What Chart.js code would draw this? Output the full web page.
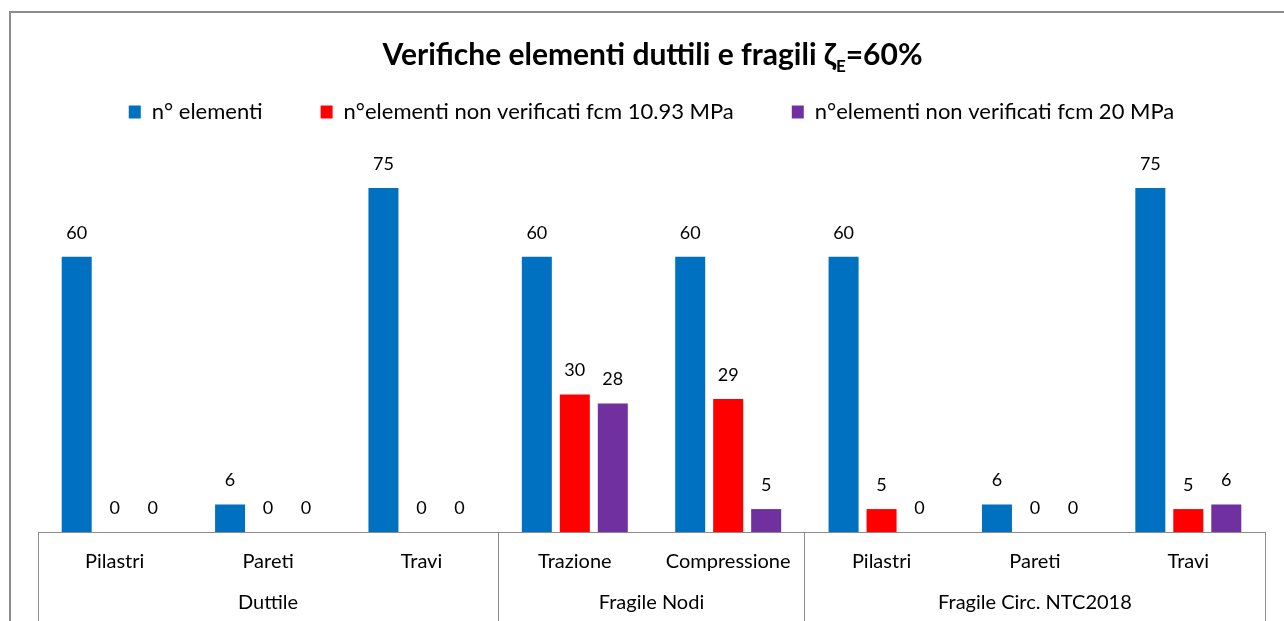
<!DOCTYPE html>
<html>
<head>
<meta charset="utf-8">
<script src="https://cdn.jsdelivr.net/npm/chart.js@4/dist/chart.umd.min.js"></script>
<style>
  html, body { margin: 0; padding: 0; background: #fff; overflow: hidden; }
  #wrap { position: relative; width: 1284px; height: 621px; overflow: hidden; }
  #chart { position: absolute; left: 0; top: 0; }
  #title { position: absolute; left: 0; top: 35px; width: 1305px; text-align: center;
           font: bold 30px Lato, sans-serif; color: #000; }
  #title sub { font-size: 17px; }
</style>
</head>
<body>
<div id="wrap">
  <canvas id="chart" width="1305" height="640"></canvas>
  <div id="title">Verifiche elementi duttili e fragili ζ<sub>E</sub>=60%</div>
</div>
<script>
// data
const categories = ['Pilastri', 'Pareti', 'Travi', 'Trazione', 'Compressione', 'Pilastri', 'Pareti', 'Travi'];
const groups = ['Duttile', 'Fragile Nodi', 'Fragile Circ. NTC2018'];
const groupSizes = [3, 2, 3];
const seriesNames = ['n° elementi', 'n°elementi non verificati fcm 10.93 MPa', 'n°elementi non verificati fcm 20 MPa'];
const nElementi = [60, 6, 75, 60, 60, 60, 6, 75];
const nonVerif1093 = [0, 0, 0, 30, 29, 5, 0, 5];
const nonVerif20 = [0, 0, 0, 28, 5, 0, 0, 6];
const colors = ['#0070C0', '#FF0000', '#7030A0'];

// group boundaries and centres on the category index scale
const bounds = [0];
groupSizes.forEach(n => bounds.push(bounds[bounds.length - 1] + n));
const groupCenters = groups.map((g, i) => (bounds[i] + bounds[i + 1]) / 2);

const axisGray = '#8c8c8c';
const font = 'Lato, sans-serif';

// value labels above bars
const valueLabels = {
  id: 'valueLabels',
  afterDatasetsDraw(chart) {
    const ctx = chart.ctx;
    ctx.save();
    ctx.font = '18px ' + font;
    ctx.fillStyle = '#000';
    ctx.textAlign = 'center';
    ctx.textBaseline = 'middle';
    chart.data.datasets.forEach((ds, i) => {
      chart.getDatasetMeta(i).data.forEach((bar, j) => {
        ctx.fillText(ds.data[j], bar.x, bar.y - 24);
      });
    });
    ctx.restore();
  }
};

// outer chart border (cropped on right and bottom)
const chartBorder = {
  id: 'chartBorder',
  beforeDraw(chart) {
    const ctx = chart.ctx;
    ctx.save();
    ctx.strokeStyle = axisGray;
    ctx.lineWidth = 2;
    ctx.strokeRect(10, 12, 2000, 2000);
    ctx.restore();
  }
};

new Chart(document.getElementById('chart'), {
  type: 'bar',
  data: {
    labels: categories,
    datasets: [
      { label: seriesNames[0], data: nElementi, backgroundColor: colors[0] },
      { label: seriesNames[1], data: nonVerif1093, backgroundColor: colors[1] },
      { label: seriesNames[2], data: nonVerif20, backgroundColor: colors[2] }
    ]
  },
  options: {
    responsive: false,
    animation: false,
    categoryPercentage: 0.743,
    barPercentage: 0.79,
    layout: { padding: { top: 43, left: 38, right: 40, bottom: 14 } },
    plugins: {
      legend: {
        display: true,
        position: 'top',
        labels: {
          boxWidth: 12,
          boxHeight: 13,
          padding: 58,
          color: '#000',
          font: { family: font, size: 22 }
        }
      },
      tooltip: { enabled: false }
    },
    scales: {
      y: { display: false, min: 0, max: 87 },
      x: {
        position: 'bottom',
        grid: {
          offset: true,
          drawOnChartArea: false,
          drawTicks: true,
          tickLength: 100,
          color: c => (c.index === undefined || bounds.includes(c.index)) ? axisGray : 'rgba(0,0,0,0)'
        },
        border: { display: true, color: axisGray, width: 1 },
        afterFit: scale => { scale.height = 44; },
        ticks: {
          padding: -82,
          autoSkip: false,
          maxRotation: 0,
          color: '#000',
          font: { family: font, size: 20 }
        }
      },
      x2: {
        type: 'linear',
        position: 'bottom',
        offset: false,
        min: 0,
        max: bounds[bounds.length - 1],
        grid: { display: false, drawTicks: false },
        border: { display: false },
        afterBuildTicks: scale => { scale.ticks = groupCenters.map(v => ({ value: v })); },
        afterFit: scale => { scale.height = 50; },
        ticks: {
          padding: 15,
          autoSkip: false,
          maxRotation: 0,
          color: '#000',
          font: { family: font, size: 20 },
          callback: v => groups[groupCenters.indexOf(v)]
        }
      }
    }
  },
  plugins: [valueLabels, chartBorder]
});
</script>
</body>
</html>
